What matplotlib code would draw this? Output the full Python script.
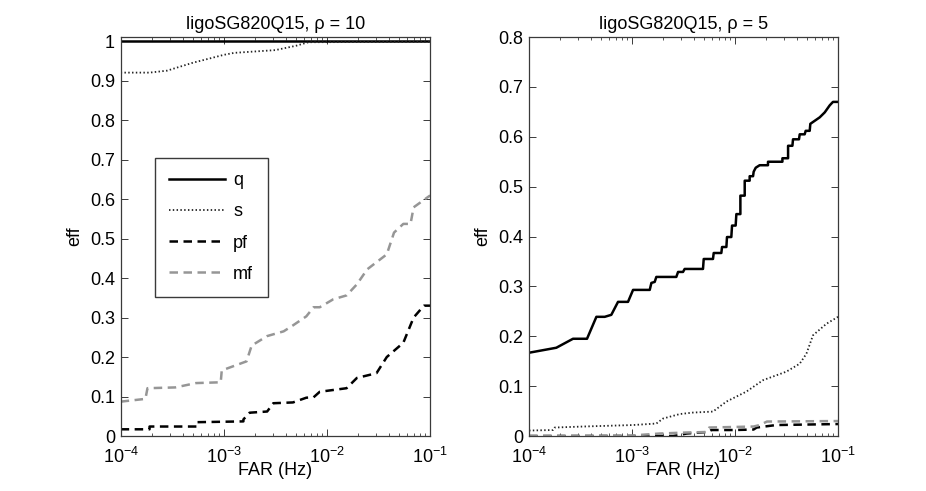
import numpy as np
import matplotlib
matplotlib.use("Agg")
import matplotlib.pyplot as plt
from matplotlib.ticker import FixedLocator, FixedFormatter, LogLocator, NullFormatter

plt.rcParams.update({
    "font.family": ["Liberation Sans", "DejaVu Sans"],
    "font.size": 13,
    "axes.linewidth": 0.9,
    "axes.edgecolor": "#3a3a3a",
})

# FAR values are stored as log10(FAR in Hz)
# ---- left panel: rho = 10 ----
left_q_far = [-4.0, -1.0]
left_q_eff = [1.0, 1.0]

left_s_far = [-4.0, -3.72, -3.55, -3.3, -3.0, -2.9, -2.5, -2.3, -2.18, -1.0]
left_s_eff = [0.92, 0.92, 0.925, 0.945, 0.965, 0.97, 0.977, 0.988, 0.997, 0.998]

left_pf_far = [-4.0, -3.72, -3.72, -3.26, -3.26, -2.81, -2.81, -2.75, -2.58, -2.52, -2.33,
               -2.20, -2.13, -2.07, -1.81, -1.71, -1.52, -1.42, -1.26, -1.16, -1.06, -1.0]
left_pf_eff = [0.017, 0.017, 0.024, 0.024, 0.035, 0.037, 0.042, 0.059, 0.062, 0.083, 0.085,
               0.097, 0.098, 0.112, 0.121, 0.147, 0.159, 0.200, 0.236, 0.300, 0.330, 0.330]

left_mf_far = [-4.0, -3.76, -3.74, -3.47, -3.27, -3.03, -3.02, -2.78, -2.73, -2.58, -2.42,
               -2.33, -2.20, -2.13, -2.07, -1.94, -1.81, -1.71, -1.61, -1.42, -1.35, -1.26,
               -1.19, -1.16, -1.0]
left_mf_eff = [0.087, 0.094, 0.121, 0.123, 0.134, 0.136, 0.166, 0.189, 0.229, 0.253, 0.265,
               0.280, 0.303, 0.326, 0.326, 0.346, 0.356, 0.384, 0.422, 0.460, 0.515, 0.537,
               0.537, 0.579, 0.609]

# ---- right panel: rho = 5 ----
right_q_far = [-4.000, -3.735, -3.573, -3.437, -3.346, -3.265, -3.201, -3.136, -3.039, -2.990,
               -2.828, -2.812, -2.780, -2.764, -2.570, -2.553, -2.505, -2.489, -2.311, -2.304,
               -2.214, -2.207, -2.133, -2.126, -2.084, -2.078, -2.036, -2.029, -1.994, -1.987,
               -1.948, -1.948, -1.906, -1.906, -1.858, -1.858, -1.825, -1.819, -1.799, -1.761,
               -1.680, -1.680, -1.540, -1.540, -1.485, -1.485, -1.443, -1.437, -1.379, -1.372,
               -1.324, -1.314, -1.275, -1.269, -1.227, -1.178, -1.129, -1.081, -1.049, -1.0]
right_q_eff = [0.167, 0.177, 0.195, 0.195, 0.239, 0.239, 0.243, 0.269, 0.269, 0.293,
               0.293, 0.307, 0.309, 0.319, 0.319, 0.329, 0.329, 0.335, 0.335, 0.355,
               0.355, 0.367, 0.367, 0.379, 0.379, 0.399, 0.399, 0.422, 0.422, 0.445,
               0.445, 0.482, 0.482, 0.512, 0.512, 0.521, 0.521, 0.530, 0.538, 0.543,
               0.543, 0.550, 0.550, 0.557, 0.557, 0.582, 0.582, 0.595, 0.595, 0.605,
               0.605, 0.612, 0.612, 0.626, 0.632, 0.639, 0.649, 0.663, 0.670, 0.670]

right_s_far = [-4.0, -3.767, -3.751, -3.476, -2.990, -2.764, -2.699, -2.537, -2.408, -2.214,
               -2.084, -1.890, -1.728, -1.502, -1.372, -1.307, -1.243, -1.113, -1.0]
right_s_eff = [0.011, 0.012, 0.017, 0.019, 0.022, 0.025, 0.035, 0.044, 0.047, 0.049,
               0.069, 0.089, 0.112, 0.129, 0.145, 0.165, 0.202, 0.225, 0.239]

right_pf_far = [-4.0, -2.60, -2.54, -2.47, -2.34, -2.26, -2.23, -2.01, -1.82, -1.79, -1.60, -1.0]
right_pf_eff = [0.0, 0.0, 0.002, 0.005, 0.007, 0.008, 0.012, 0.012, 0.013, 0.017, 0.022, 0.024]

right_mf_far = [-4.0, -3.0, -2.73, -2.47, -2.28, -2.25, -1.82, -1.76, -1.69, -1.0]
right_mf_eff = [0.0, 0.001, 0.005, 0.007, 0.008, 0.017, 0.019, 0.022, 0.029, 0.030]

titles = ["ligoSG820Q15, \u03c1 = 10", "ligoSG820Q15, \u03c1 = 5"]
legend_labels = ["q", "s", "pf", "mf"]
xtick_exp = [-4, -3, -2, -1]

gray = "#969696"
styles = [
    dict(color="black", lw=1.8, ls="-"),
    dict(color="#222222", lw=1.3, ls=(0, (0.8, 1.3))),
    dict(color="black", lw=1.8, ls=(0, (3.4, 2.2))),
    dict(color=gray, lw=1.8, ls=(0, (3.4, 2.2))),
]

fig = plt.figure(figsize=(9.26, 4.91), dpi=100)
ax1 = fig.add_axes([0.1303, 0.112, 0.3342, 0.8125])
ax2 = fig.add_axes([0.5713, 0.112, 0.3337, 0.8125])

panels = [
    (ax1, [(left_q_far, left_q_eff), (left_s_far, left_s_eff),
           (left_pf_far, left_pf_eff), (left_mf_far, left_mf_eff)], (0, 1.01),
     np.arange(0, 1.01, 0.1), ["0", "0.1", "0.2", "0.3", "0.4", "0.5", "0.6", "0.7", "0.8", "0.9", "1"]),
    (ax2, [(right_q_far, right_q_eff), (right_s_far, right_s_eff),
           (right_pf_far, right_pf_eff), (right_mf_far, right_mf_eff)], (0, 0.8),
     np.arange(0, 0.81, 0.1), ["0", "0.1", "0.2", "0.3", "0.4", "0.5", "0.6", "0.7", "0.8"]),
]

for i, (ax, series, ylim, yticks, ylabels) in enumerate(panels):
    lines = []
    for (far, eff), st, lab in zip(series, styles, legend_labels):
        ln, = ax.plot(10.0 ** np.array(far), eff, label=lab, **st)
        lines.append(ln)
    ax.set_xscale("log")
    ax.set_xlim(1e-4, 1e-1)
    ax.set_ylim(*ylim)
    ax.xaxis.set_major_locator(FixedLocator([10.0 ** e for e in xtick_exp]))
    ax.xaxis.set_major_formatter(FixedFormatter([r"$\mathregular{10^{%d}}$" % e for e in xtick_exp]))
    ax.xaxis.set_minor_locator(LogLocator(base=10, subs=np.arange(2, 10)))
    ax.xaxis.set_minor_formatter(NullFormatter())
    ax.set_yticks(yticks)
    ax.set_yticklabels(ylabels)
    ax.tick_params(which="major", direction="in", length=5, width=0.7, top=True, right=True,
                   color="#3a3a3a")
    ax.tick_params(axis="y", which="major", pad=4)
    ax.tick_params(axis="x", which="major", pad=7.5)
    ax.tick_params(which="minor", direction="in", length=2.5, width=0.6, top=True, right=True,
                   color="#3a3a3a")
    ax.set_title(titles[i], fontsize=13, pad=6)
    ax.set_xlabel("FAR (Hz)", labelpad=-3)
    ax.set_ylabel("eff", labelpad=5)

    if i == 0:
        ax1.legend(handles=lines, loc="upper left", bbox_to_anchor=(0.11, 0.697),
                   handlelength=3.1, handletextpad=0.45, labelspacing=0.78,
                   borderpad=0.8, fancybox=False, framealpha=1, edgecolor="#3a3a3a",
                   fontsize=13, borderaxespad=0)

fig.savefig("out.png", dpi=100)
